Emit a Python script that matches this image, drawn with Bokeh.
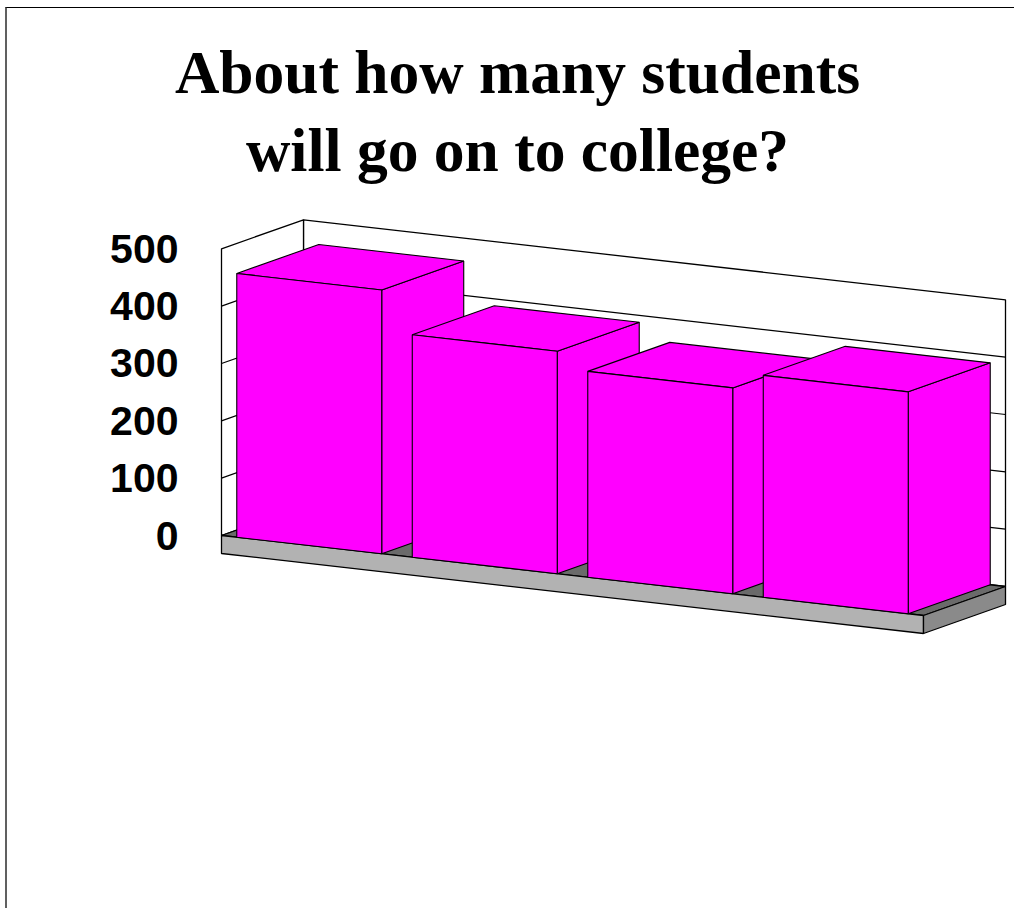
from bokeh.plotting import figure
from bokeh.models import Range1d, FixedTicker, Label, ColumnDataSource
from bokeh.embed import file_html
from bokeh.resources import INLINE

# ---------------- data ----------------
TITLE_LINES = ["About how many students", "will go on to college?"]
CATEGORIES = ["1", "2", "3", "4"]
VALUES = [460, 388, 359, 387]
TICKS = [0, 100, 200, 300, 400, 500]
TICK_LABELS = ["0", "100", "200", "300", "400", "500"]
GRID_VALUES = [100, 200, 300, 400]
Y_MAX = 500

# ---------------- layout / style ----------------
CANVAS_X, CANVAS_Y = 7, 8
W, H = 1016 - CANVAS_X, 909 - CANVAS_Y
MBL = 158
ORIGIN_X, ORIGIN_Y = 221.0, 535.0
PX_PER_UNIT = 286.7 / 500.0
SLOT_DX, SLOT_DY = 175.5, 20.0
DEPTH_DX, DEPTH_DY = 82.0, -29.0
FLOOR_T = 18.0 / PX_PER_UNIT
BAR_W = 0.826
MAGENTA = "#FF00FF"


def proj(c, d, v):
    x = ORIGIN_X + c * SLOT_DX + d * DEPTH_DX
    y = v - (c * SLOT_DY + d * DEPTH_DY) / PX_PER_UNIT
    return x, y


def poly(pts):
    xs, ys = zip(*[proj(*q) for q in pts])
    return list(xs), list(ys)


def page_y(py):
    return (ORIGIN_Y - py) / PX_PER_UNIT


n = len(CATEGORIES)
x_range = Range1d(CANVAS_X + MBL, CANVAS_X + W)
y_range = Range1d(page_y(CANVAS_Y + H), page_y(CANVAS_Y))

p = figure(width=W, height=H, x_range=x_range, y_range=y_range,
           x_axis_type=None, output_backend="svg", toolbar_location=None,
           min_border_left=MBL, min_border_right=0, min_border_top=0,
           min_border_bottom=0)
p.outline_line_color = None
p.ygrid.visible = False
p.background_fill_color = "white"
p.border_fill_color = "white"
p.margin = (CANVAS_Y - 1, 0, 0, CANVAS_X - 2)
p.styles = {"border-left": "2px solid #606060", "border-top": "1px solid #000000"}

ax = p.yaxis[0]
ax.ticker = FixedTicker(ticks=TICKS)
ax.major_label_overrides = {t: l for t, l in zip(TICKS, TICK_LABELS)}
ax.axis_line_color = None
ax.major_tick_line_color = None
ax.minor_tick_line_color = None
ax.major_tick_out = 0
ax.major_tick_in = 0
ax.major_label_standoff = (CANVAS_X + MBL) - 178
ax.major_label_text_font = "Liberation Sans"
ax.major_label_text_font_style = "bold"
ax.major_label_text_font_size = "41px"
ax.major_label_text_color = "black"

# walls
walls = [
    [(0, 1, 0), (n, 1, 0), (n, 1, Y_MAX), (0, 1, Y_MAX)],
    [(0, 0, 0), (0, 1, 0), (0, 1, Y_MAX), (0, 0, Y_MAX)],
]
wx, wy = zip(*[poly(w) for w in walls])
p.patches(list(wx), list(wy), fill_color="white", line_color="black", line_width=1.3)

gx, gy = [], []
for g in GRID_VALUES:
    xs, ys = poly([(0, 0, g), (0, 1, g), (n, 1, g)])
    gx.append(xs)
    gy.append(ys)
p.multi_line(gx, gy, line_color="black", line_width=1.2)

# floor slab
floor = [
    ([(0, 0, 0), (n, 0, 0), (n, 1, 0), (0, 1, 0)], "#6a6a6a"),
    ([(0, 0, 0), (n, 0, 0), (n, 0, -FLOOR_T), (0, 0, -FLOOR_T)], "#b2b2b2"),
    ([(n, 0, 0), (n, 1, 0), (n, 1, -FLOOR_T), (n, 0, -FLOOR_T)], "#8a8a8a"),
]
fx, fy, fc = [], [], []
for pts, col in floor:
    xs, ys = poly(pts)
    fx.append(xs); fy.append(ys); fc.append(col)
p.patches(fx, fy, fill_color=fc, line_color="black", line_width=1.3)

# bars
bx, by = [], []
for i, v in enumerate(VALUES):
    c0 = i + (1 - BAR_W) / 2
    c1 = i + (1 + BAR_W) / 2
    faces = [
        [(c1, 0, 0), (c1, 1, 0), (c1, 1, v), (c1, 0, v)],
        [(c0, 0, v), (c1, 0, v), (c1, 1, v), (c0, 1, v)],
        [(c0, 0, 0), (c1, 0, 0), (c1, 0, v), (c0, 0, v)],
    ]
    for f in faces:
        xs, ys = poly(f)
        bx.append(xs); by.append(ys)
src = ColumnDataSource(dict(xs=bx, ys=by))
p.patches("xs", "ys", source=src, fill_color=MAGENTA, line_color="black", line_width=1.1)

# title
for text, base in zip(TITLE_LINES, [71, 149]):
    p.add_layout(Label(x=517, y=page_y(base), text=text, text_align="center",
                       text_baseline="alphabetic", text_font="Liberation Serif",
                       text_font_style="bold", text_font_size="61.5px",
                       text_color="black"))

open("out.html", "w").write(file_html(p, INLINE))
